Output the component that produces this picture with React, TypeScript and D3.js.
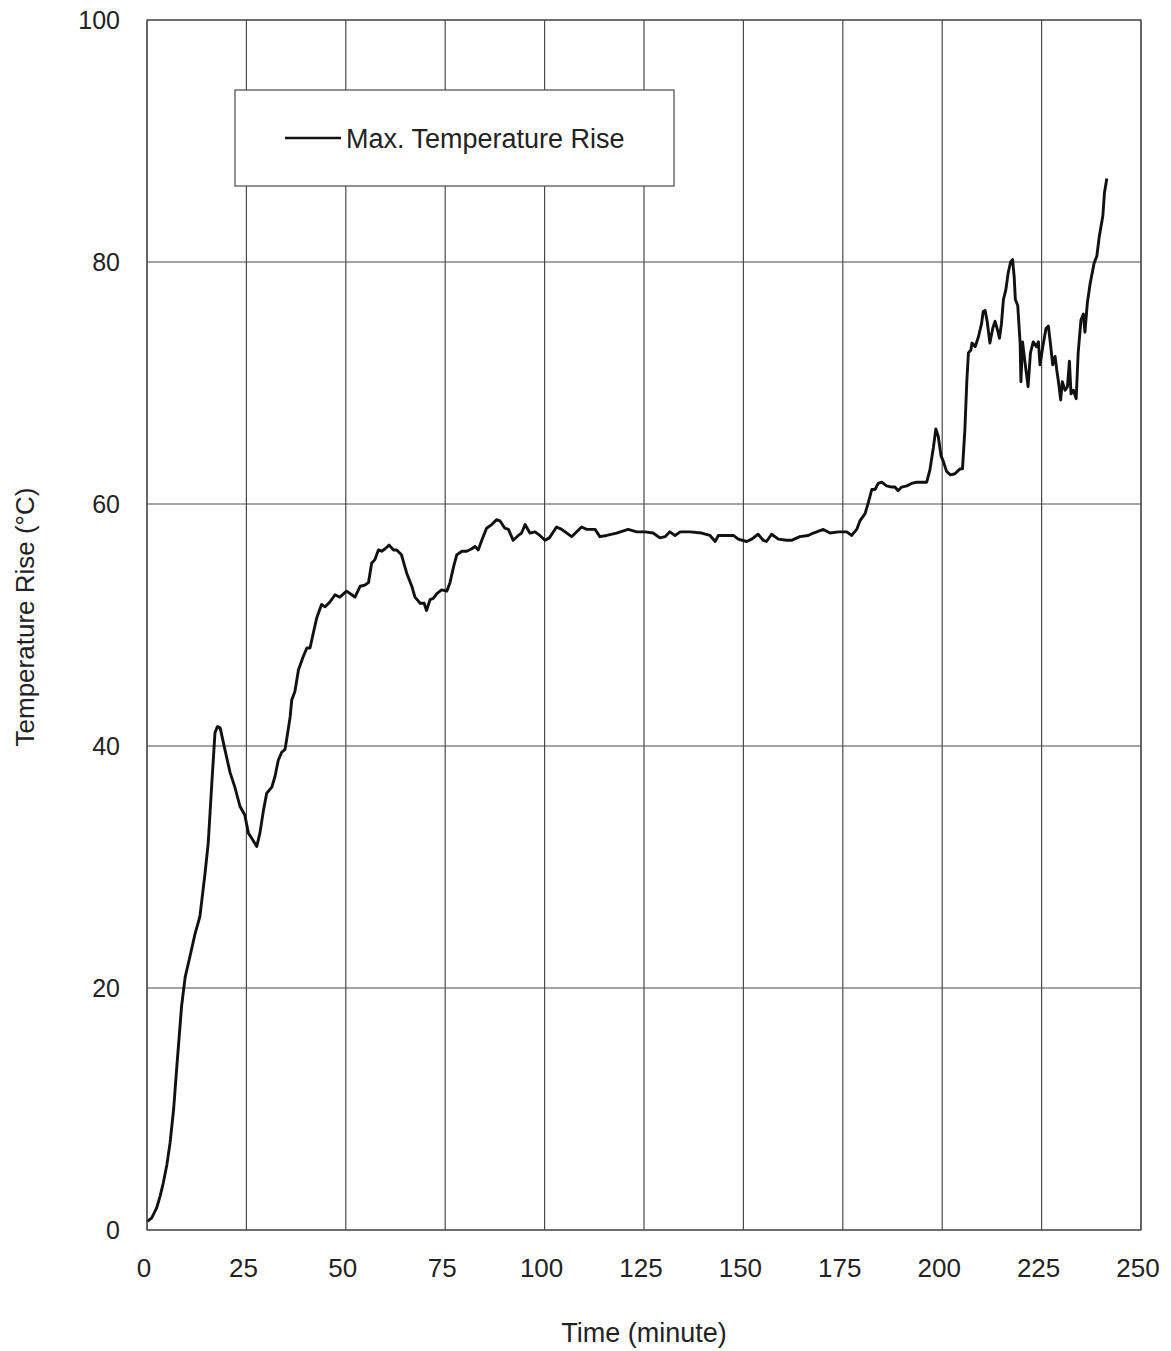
import React, { useEffect, useRef } from 'react';
import * as d3 from 'd3';

// [minute, temperature rise °C]
const rampUp: [number, number][] = [
  [0, 0.7], [1.2, 1.0], [2.4, 1.8], [3.3, 2.8], [4.1, 3.9], [5.0, 5.4], [5.8, 7.2], [6.7, 10.0],
  [7.5, 13.5], [8.7, 18.5], [9.6, 20.9], [10.8, 22.6], [12.1, 24.5], [13.3, 25.9], [14.6, 29.5],
  [15.4, 32.0], [16.3, 36.9], [17.1, 41.1], [17.7, 41.6], [18.4, 41.5], [19.6, 39.7], [20.9, 37.8],
  [22.1, 36.6], [23.4, 35.0], [24.6, 34.3], [25.5, 32.8], [26.3, 32.4], [27.6, 31.7], [28.4, 32.8],
  [29.3, 34.7], [30.1, 36.1], [31.4, 36.6], [32.2, 37.5], [33.0, 38.8], [33.9, 39.5], [34.7, 39.7],
  [35.1, 40.5], [36.0, 42.4], [36.4, 43.8], [37.2, 44.5], [38.1, 46.3], [39.3, 47.4], [40.2, 48.1],
  [41.0, 48.1], [41.8, 49.3], [42.7, 50.6], [43.9, 51.7], [44.8, 51.5], [46.0, 51.9], [47.3, 52.5],
  [48.5, 52.3], [50.2, 52.8], [51.5, 52.5], [52.3, 52.3], [53.6, 53.2], [54.8, 53.3], [55.7, 53.5],
  [56.5, 55.1], [57.3, 55.4], [58.2, 56.2], [59.0, 56.1], [59.9, 56.3], [60.9, 56.6], [62.0, 56.2],
  [62.8, 56.2], [64.0, 55.8], [65.3, 54.3], [66.6, 53.2], [67.4, 52.3], [68.7, 51.8], [69.7, 51.8],
  [70.3, 51.2], [71.2, 52.1], [72.0, 52.2], [72.9, 52.6], [74.1, 52.9], [75.4, 52.8], [76.2, 53.5],
  [77.1, 54.8], [77.9, 55.8], [79.2, 56.1], [80.4, 56.1], [81.7, 56.3], [82.5, 56.5], [83.3, 56.2],
  [84.2, 57.0], [85.4, 58.0], [86.7, 58.3], [87.9, 58.7], [88.8, 58.6], [90.0, 58.0], [90.9, 57.9],
  [92.1, 57.0], [93.4, 57.4], [94.2, 57.6], [95.1, 58.3], [96.3, 57.6], [97.6, 57.7], [98.8, 57.4],
];

const plateau: [number, number][] = [
  [100.1, 57.0], [101.2, 57.2], [103.0, 58.1], [104.3, 57.9], [106.8, 57.3], [109.3, 58.1],
  [110.6, 57.9], [112.7, 57.9], [113.9, 57.3], [115.6, 57.4], [118.1, 57.6], [121.0, 57.9],
  [123.2, 57.7], [125.3, 57.7], [127.3, 57.6], [129.0, 57.2], [130.3, 57.3], [131.5, 57.7],
  [132.8, 57.4], [134.1, 57.7], [136.6, 57.7], [139.5, 57.6], [141.6, 57.4], [142.9, 56.9],
  [143.7, 57.4], [145.8, 57.4], [147.5, 57.4], [148.7, 57.1], [150.8, 56.9], [152.1, 57.1],
  [153.7, 57.5], [155.0, 57.0], [155.8, 56.9], [157.1, 57.5], [158.8, 57.1], [160.9, 57.0],
  [162.1, 57.0], [164.2, 57.3], [166.3, 57.4], [167.6, 57.6], [170.1, 57.9], [171.8, 57.6],
  [173.9, 57.7], [176.0, 57.7], [177.2, 57.4], [178.5, 57.9],
];

const finalRise: [number, number][] = [
  [179.3, 58.6], [180.6, 59.2], [181.4, 60.1], [182.3, 61.2], [183.1, 61.2], [183.9, 61.7],
  [184.8, 61.8], [186.0, 61.5], [187.3, 61.4], [188.1, 61.4], [188.9, 61.1], [189.8, 61.4],
  [191.1, 61.5], [192.3, 61.7], [193.6, 61.8], [194.8, 61.8], [196.1, 61.8], [196.9, 62.8],
  [197.8, 64.7], [198.4, 66.2], [199.0, 65.6], [199.7, 64.0], [200.3, 63.5], [201.1, 62.7],
  [202.1, 62.4], [203.2, 62.5], [204.5, 62.9], [205.1, 62.9], [205.7, 66.1], [206.2, 70.2],
  [206.6, 72.5], [207.2, 72.7], [207.5, 73.3], [208.3, 73.0], [209.1, 73.8], [209.9, 74.9],
  [210.3, 75.9], [210.8, 76.0], [211.3, 75.1], [212.0, 73.3], [212.7, 74.5], [213.3, 75.1],
  [213.9, 74.4], [214.4, 73.7], [214.9, 74.9], [215.4, 76.9], [216.0, 77.7], [216.6, 79.1],
  [217.2, 80.0], [217.7, 80.2], [218.1, 78.8], [218.4, 76.9], [219.0, 76.4], [219.6, 73.3],
  [219.8, 70.1], [220.2, 73.4], [220.9, 71.5], [221.6, 69.7], [222.2, 72.5], [222.9, 73.4],
  [223.7, 73.0], [224.2, 73.4], [224.6, 71.5], [225.3, 73.0], [226.1, 74.5], [226.7, 74.7],
  [227.1, 73.6], [227.8, 71.5], [228.4, 72.2], [228.8, 71.1], [229.2, 70.2], [229.8, 68.6],
  [230.2, 70.1], [230.9, 69.4], [231.5, 69.7], [232.0, 71.8], [232.4, 69.1], [233.0, 69.4],
  [233.7, 68.7], [234.2, 72.5], [234.9, 75.2], [235.5, 75.7], [235.9, 74.2], [236.5, 76.6],
  [237.2, 78.2], [238.2, 79.9], [238.9, 80.5], [239.5, 82.1], [240.4, 83.8], [240.8, 85.7],
  [241.4, 86.9],
];

const xTicks = [0, 25, 50, 75, 100, 125, 150, 175, 200, 225, 250];
const yTicks = [0, 20, 40, 60, 80, 100];
const seriesName = 'Max. Temperature Rise';

const App = () => {
  const ref = useRef<SVGSVGElement>(null);

  useEffect(() => {
    const width = 1171;
    const height = 1351;
    const margin = { top: 20, right: 30, bottom: 121, left: 147 };
    const font = '"Liberation Sans", Arial, sans-serif';
    const gridColor = '#4a4a4a';

    const svg = d3.select(ref.current);
    svg.selectAll('*').remove();

    const x = d3.scaleLinear().domain([0, 250]).range([margin.left, width - margin.right]);
    const y = d3.scaleLinear().domain([0, 100]).range([height - margin.bottom, margin.top]);

    // grid
    svg.append('g')
      .selectAll('line')
      .data(xTicks)
      .join('line')
      .attr('x1', d => x(d)).attr('x2', d => x(d))
      .attr('y1', y(0)).attr('y2', y(100))
      .attr('stroke', gridColor).attr('stroke-width', 1.2);

    svg.append('g')
      .selectAll('line')
      .data(yTicks)
      .join('line')
      .attr('x1', x(0)).attr('x2', x(250))
      .attr('y1', d => y(d)).attr('y2', d => y(d))
      .attr('stroke', gridColor).attr('stroke-width', 1.2);

    // tick labels
    svg.append('g')
      .selectAll('text')
      .data(xTicks)
      .join('text')
      .attr('x', d => x(d) - 3)
      .attr('y', y(0) + 47)
      .attr('text-anchor', 'middle')
      .attr('font-family', font)
      .attr('font-size', 26)
      .attr('fill', '#222')
      .text(d => d);

    svg.append('g')
      .selectAll('text')
      .data(yTicks)
      .join('text')
      .attr('x', x(0) - 27)
      .attr('y', d => y(d) + 9)
      .attr('text-anchor', 'end')
      .attr('font-family', font)
      .attr('font-size', 25)
      .attr('fill', '#222')
      .text(d => d);

    // axis titles
    svg.append('text')
      .attr('transform', `translate(34,${(y(0) + y(100)) / 2 - 8}) rotate(-90)`)
      .attr('text-anchor', 'middle')
      .attr('font-family', font)
      .attr('font-size', 26)
      .attr('fill', '#222')
      .text('Temperature Rise (°C)');

    svg.append('text')
      .attr('x', (x(0) + x(250)) / 2)
      .attr('y', 1342)
      .attr('text-anchor', 'middle')
      .attr('font-family', font)
      .attr('font-size', 27)
      .attr('fill', '#222')
      .text('Time (minute)');

    // data line
    const data = [...rampUp, ...plateau, ...finalRise];
    const line = d3.line<[number, number]>()
      .x(d => x(d[0]))
      .y(d => y(d[1]))
      .curve(d3.curveLinear);

    svg.append('path')
      .datum(data)
      .attr('d', line)
      .attr('fill', 'none')
      .attr('stroke', '#111')
      .attr('stroke-width', 2.9)
      .attr('stroke-linejoin', 'round');

    // legend
    const legend = svg.append('g');
    legend.append('rect')
      .attr('x', 235).attr('y', 90)
      .attr('width', 439).attr('height', 96)
      .attr('fill', 'white')
      .attr('stroke', gridColor).attr('stroke-width', 1.2);
    legend.append('line')
      .attr('x1', 285).attr('x2', 341)
      .attr('y1', 138).attr('y2', 138)
      .attr('stroke', '#111').attr('stroke-width', 2.6);
    legend.append('text')
      .attr('x', 346).attr('y', 148)
      .attr('font-family', font)
      .attr('font-size', 27)
      .attr('fill', '#222')
      .text(seriesName);

    // plot frame
    svg.append('rect')
      .attr('x', x(0)).attr('y', y(100))
      .attr('width', x(250) - x(0)).attr('height', y(0) - y(100))
      .attr('fill', 'none')
      .attr('stroke', gridColor).attr('stroke-width', 1.2);
  }, []);

  return (
    <svg
      ref={ref}
      width={1171}
      height={1351}
      style={{ position: 'absolute', left: 0, top: 0, background: 'white' }}
    />
  );
};

export default App;
